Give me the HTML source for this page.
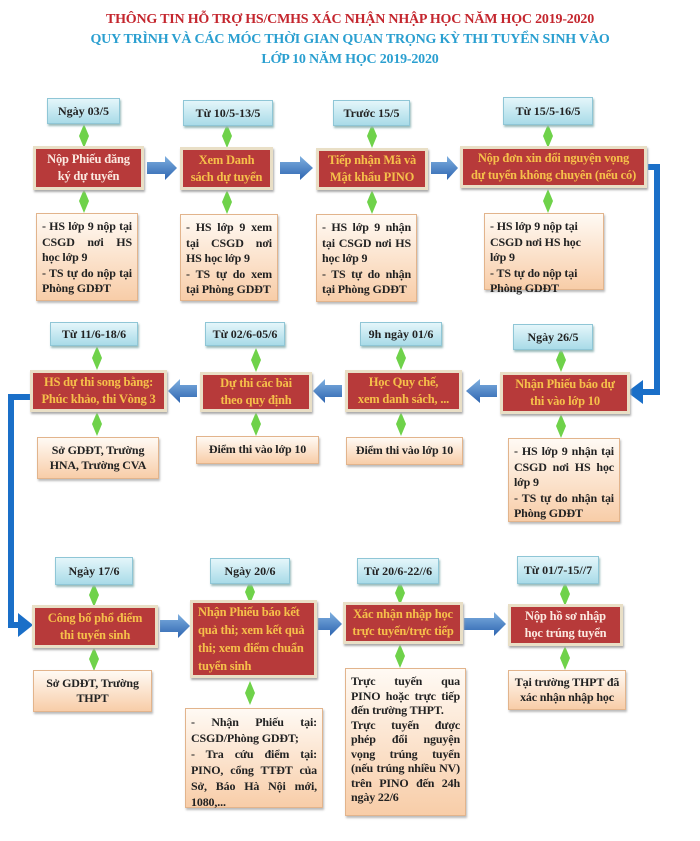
<!DOCTYPE html>
<html><head><meta charset="utf-8">
<style>
body{margin:0;width:700px;height:841px;background:#fff;position:relative;overflow:hidden;font-family:"Liberation Serif",serif;}
.t{position:absolute;left:0;width:700px;text-align:center;font-weight:bold;font-size:14px;letter-spacing:-0.2px;}
.d{position:absolute;box-sizing:border-box;background:linear-gradient(#e4f6fa,#a9dbe8);border:1px solid #8fc6d6;box-shadow:1px 2px 2px #9bb;display:flex;align-items:center;justify-content:center;font-weight:bold;font-size:12px;color:#222;}
.r{position:absolute;box-sizing:border-box;background:#b73a3a;border:3px solid #e9dfc6;box-shadow:1px 2px 2px #aaa;display:flex;align-items:center;justify-content:center;text-align:center;font-weight:bold;font-size:12.5px;line-height:17px;letter-spacing:-0.2px;color:#f6c04a;padding:0 2px;}
.p{position:absolute;box-sizing:border-box;background:linear-gradient(#fffaf4,#f8cda8);border:1px solid #e2b48c;box-shadow:1px 2px 2px #bbb;font-weight:bold;font-size:12px;line-height:15.5px;letter-spacing:-0.15px;color:#222;padding:5px 5px;text-align:justify;}
.c{text-align:center;display:flex;align-items:center;justify-content:center;}
svg{position:absolute;left:0;top:0;}
</style></head><body>
<div class="t" style="top:12px;color:#c4262e;">THÔNG TIN HỖ TRỢ HS/CMHS XÁC NHẬN NHẬP HỌC NĂM HỌC 2019-2020</div>
<div class="t" style="top:32px;color:#2a9fd0;">QUY TRÌNH VÀ CÁC MÓC THỜI GIAN QUAN TRỌNG KỲ THI TUYỂN SINH VÀO</div>
<div class="t" style="top:52px;color:#2a9fd0;">LỚP 10 NĂM HỌC 2019-2020</div>

<svg width="700" height="841">
<defs>
<linearGradient id="b" x1="0" y1="0" x2="0" y2="1"><stop offset="0" stop-color="#7fb0e0"/><stop offset="1" stop-color="#2d64b0"/></linearGradient>
<g id="g"><polygon points="0,-12 5,0 0,12 -5,0" fill="#6fd24a"/></g>
</defs>
<g fill="url(#b)">
<polygon points="147,162 165,162 165,156 177,168 165,180 165,174 147,174"/>
<polygon points="280,162 300,162 300,156 313,168 300,180 300,174 280,174"/>
<polygon points="431,162 447,162 447,156 458,168 447,180 447,174 431,174"/>
<polygon points="197,385 180,385 180,379 168,391 180,403 180,397 197,397"/>
<polygon points="342,385 325,385 325,379 313,391 325,403 325,397 342,397"/>
<polygon points="497,385 480,385 480,379 466,391 480,403 480,397 497,397"/>
<polygon points="160,620 178,620 178,614 190,626 178,638 178,632 160,632"/>
<polygon points="318,618 330,618 330,612 342,624 330,636 330,630 318,630"/>
<polygon points="464,618 494,618 494,612 506,624 494,636 494,630 464,630"/>
</g>
<polyline points="648,167 657,167 657,392 640,392" fill="none" stroke="#1a6fc8" stroke-width="6"/>
<polygon points="627,392 643,380 643,404" fill="#1a6fc8"/>
<polyline points="30,397 11,397 11,625 22,625" fill="none" stroke="#1a6fc8" stroke-width="6"/>
<polygon points="33,625 18,613 18,637" fill="#1a6fc8"/>
<use href="#g" x="84" y="136"/><use href="#g" x="84" y="201"/>
<use href="#g" x="227" y="136"/><use href="#g" x="227" y="202"/>
<use href="#g" x="372" y="136"/><use href="#g" x="372" y="202"/>
<use href="#g" x="548" y="136"/><use href="#g" x="548" y="201"/>
<use href="#g" x="97" y="358"/><use href="#g" x="256" y="360"/><use href="#g" x="401" y="358"/><use href="#g" x="561" y="360"/>
<use href="#g" x="97" y="424"/><use href="#g" x="256" y="424"/><use href="#g" x="401" y="424"/><use href="#g" x="561" y="426"/>
<use href="#g" x="94" y="595"/><use href="#g" x="250" y="592"/><use href="#g" x="400" y="593"/><use href="#g" x="565" y="594"/>
<use href="#g" x="94" y="659"/><use href="#g" x="250" y="693"/><use href="#g" x="400" y="656"/><use href="#g" x="565" y="658"/>
</svg>

<div class="d" style="left:47px;top:98px;width:73px;height:26px;">Ngày 03/5</div>
<div class="d" style="left:183px;top:100px;width:90px;height:26px;">Từ 10/5-13/5</div>
<div class="d" style="left:333px;top:100px;width:77px;height:26px;">Trước 15/5</div>
<div class="d" style="left:503px;top:97px;width:90px;height:28px;">Từ 15/5-16/5</div>
<div class="r" style="left:33px;top:146px;width:111px;height:44px;color:#fbe9e0;">Nộp Phiếu đăng<br>ký dự tuyển</div>
<div class="r" style="left:180px;top:147px;width:93px;height:43px;">Xem Danh<br>sách dự tuyển</div>
<div class="r" style="left:316px;top:148px;width:112px;height:42px;">Tiếp nhận Mã và<br>Mật khẩu PINO</div>
<div class="r" style="left:460px;top:146px;width:187px;height:42px;">Nộp đơn xin đổi nguyện vọng<br>dự tuyển không chuyên (nếu có)</div>
<div class="p" style="left:36px;top:213px;width:102px;height:88px;">- HS lớp 9 nộp tại CSGD nơi HS học lớp 9<br>- TS tự do nộp tại Phòng GDĐT</div>
<div class="p" style="left:180px;top:214px;width:98px;height:87px;">- HS lớp 9 xem tại CSGD nơi HS học lớp 9<br>- TS tự do xem tại Phòng GDĐT</div>
<div class="p" style="left:316px;top:214px;width:101px;height:88px;">- HS lớp 9 nhận tại CSGD nơi HS học lớp 9<br>- TS tự do nhận tại Phòng GDĐT</div>
<div class="p" style="left:484px;top:213px;width:120px;height:77px;text-align:left;">- HS lớp 9 nộp tại CSGD nơi HS học lớp 9<br>- TS tự do nộp tại Phòng GDĐT</div>

<div class="d" style="left:50px;top:322px;width:88px;height:24px;">Từ 11/6-18/6</div>
<div class="d" style="left:205px;top:322px;width:80px;height:24px;">Từ 02/6-05/6</div>
<div class="d" style="left:360px;top:322px;width:82px;height:24px;">9h ngày 01/6</div>
<div class="d" style="left:513px;top:324px;width:80px;height:26px;">Ngày 26/5</div>
<div class="r" style="left:30px;top:370px;width:137px;height:42px;">HS dự thi song bằng:<br>Phúc khảo, thi Vòng 3</div>
<div class="r" style="left:200px;top:372px;width:112px;height:40px;">Dự thi các bài<br>theo quy định</div>
<div class="r" style="left:345px;top:370px;width:117px;height:42px;">Học Quy chế,<br>xem danh sách, ...</div>
<div class="r" style="left:500px;top:372px;width:130px;height:42px;">Nhận Phiếu báo dự<br>thi vào lớp 10</div>
<div class="p c" style="left:37px;top:437px;width:122px;height:42px;">Sở GDĐT, Trường HNA, Trường CVA</div>
<div class="p c" style="left:196px;top:436px;width:123px;height:28px;">Điểm thi vào lớp 10</div>
<div class="p c" style="left:346px;top:437px;width:117px;height:28px;">Điểm thi vào lớp 10</div>
<div class="p" style="left:508px;top:438px;width:112px;height:84px;">- HS lớp 9 nhận tại CSGD nơi HS học lớp 9<br>- TS tự do nhận tại Phòng GDĐT</div>

<div class="d" style="left:55px;top:557px;width:78px;height:28px;">Ngày 17/6</div>
<div class="d" style="left:210px;top:558px;width:80px;height:26px;">Ngày 20/6</div>
<div class="d" style="left:357px;top:558px;width:82px;height:26px;">Từ 20/6-22//6</div>
<div class="d" style="left:517px;top:556px;width:82px;height:28px;">Từ 01/7-15//7</div>
<div class="r" style="left:32px;top:605px;width:126px;height:43px;">Công bố phổ điểm<br>thi tuyển sinh</div>
<div class="r" style="left:190px;top:600px;width:127px;height:78px;text-align:left;justify-content:flex-start;padding-left:5px;line-height:18px;">Nhận Phiếu báo kết quả thi; xem kết quả thi; xem điểm chuẩn tuyển sinh</div>
<div class="r" style="left:343px;top:602px;width:120px;height:42px;">Xác nhận nhập học<br>trực tuyến/trực tiếp</div>
<div class="r" style="left:508px;top:604px;width:115px;height:42px;color:#fbe9e0;">Nộp hồ sơ nhập<br>học trúng tuyển</div>
<div class="p c" style="left:33px;top:670px;width:119px;height:42px;">Sở GDĐT, Trường THPT</div>
<div class="p" style="left:185px;top:708px;width:138px;height:100px;line-height:16px;">- Nhận Phiếu tại: CSGD/Phòng GDĐT;<br>- Tra cứu điểm tại: PINO, cổng TTĐT của Sở, Báo Hà Nội mới, 1080,...</div>
<div class="p" style="left:345px;top:668px;width:121px;height:148px;line-height:14.5px;">Trực tuyến qua PINO hoặc trực tiếp đến trường THPT.<br>Trực tuyến được phép đổi nguyện vọng trúng tuyển (nếu trúng nhiều NV) trên PINO đến 24h ngày 22/6</div>
<div class="p c" style="left:508px;top:670px;width:118px;height:40px;">Tại trường THPT đã xác nhận nhập học</div>
</body></html>
